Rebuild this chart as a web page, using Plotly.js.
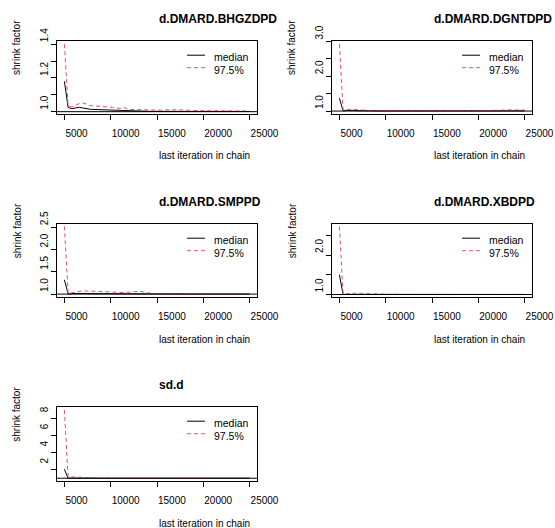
<!DOCTYPE html>
<html>
<head>
<meta charset="utf-8">
<script src="https://cdn.plot.ly/plotly-3.0.1.min.js"></script>
<style>
  html, body { margin: 0; padding: 0; background: #ffffff; }
  #chart { width: 555px; height: 528px; }
</style>
</head>
<body>
<div id="chart"></div>
<script>
// ---- data ----
const iterations = [5000, 5400, 5800, 6200, 6600, 7000, 7400, 7800, 8200, 8600,
  9000, 9400, 9800, 10200, 10600, 11000, 11400, 11800, 12200, 12600,
  13000, 13400, 13800, 14200, 14600, 15000, 15400, 15800, 16200, 16600,
  17000, 17400, 17800, 18200, 18600, 19000, 19400, 19800, 20200, 20600,
  21000, 21400, 21800, 22200, 22600, 23000, 23400, 23800, 24200, 24600, 25000];

const panelTitles = ['d.DMARD.BHGZDPD', 'd.DMARD.DGNTDPD', 'd.DMARD.SMPPD', 'd.DMARD.XBDPD', 'sd.d'];
const seriesNames = ['median', '97.5%'];

const bhgzMedian = [1.18, 1.025, 1.018, 1.020, 1.026, 1.022, 1.016, 1.014, 1.013, 1.012,
  1.011, 1.010, 1.010, 1.009, 1.007, 1.010, 1.008, 1.005, 1.004, 1.004,
  1.003, 1.003, 1.003, 1.002, 1.002, 1.002, 1.003, 1.004, 1.005, 1.005,
  1.005, 1.004, 1.004, 1.003, 1.002, 1.002, 1.002, 1.001, 1.001, 1.002,
  1.002, 1.002, 1.002, 1.002, 1.002, 1.001, 1.001, 1.001, 1.001, 1.001, 1.001];
const bhgzUpper = [1.40, 1.035, 1.028, 1.040, 1.048, 1.052, 1.044, 1.036, 1.034, 1.033,
  1.031, 1.029, 1.027, 1.026, 1.022, 1.019, 1.026, 1.016, 1.013, 1.012,
  1.011, 1.010, 1.010, 1.009, 1.008, 1.008, 1.009, 1.011, 1.012, 1.012,
  1.012, 1.011, 1.010, 1.008, 1.007, 1.007, 1.006, 1.006, 1.006, 1.007,
  1.007, 1.007, 1.007, 1.006, 1.006, 1.006, 1.005, 1.005, 1.005, 1.005, 1.004];

const dgntMedian = [1.37, 1.005, 1.020, 1.025, 1.020, 1.010, 1.006, 1.005, 1.004, 1.004,
  1.003, 1.003, 1.003, 1.004, 1.004, 1.004, 1.005, 1.005, 1.004, 1.004,
  1.004, 1.004, 1.003, 1.003, 1.003, 1.003, 1.003, 1.003, 1.003, 1.003,
  1.003, 1.002, 1.002, 1.002, 1.002, 1.002, 1.002, 1.002, 1.002, 1.003,
  1.004, 1.005, 1.007, 1.008, 1.010, 1.012, 1.012, 1.010, 1.008, 1.006, 1.005];
const dgntUpper = [2.93, 1.030, 1.050, 1.055, 1.050, 1.035, 1.025, 1.020, 1.018, 1.017,
  1.016, 1.016, 1.017, 1.020, 1.022, 1.022, 1.024, 1.024, 1.022, 1.022,
  1.021, 1.021, 1.020, 1.019, 1.018, 1.018, 1.018, 1.017, 1.016, 1.015,
  1.013, 1.011, 1.010, 1.009, 1.008, 1.008, 1.008, 1.009, 1.010, 1.012,
  1.015, 1.020, 1.025, 1.030, 1.035, 1.038, 1.038, 1.035, 1.032, 1.030, 1.028];

const smpMedian = [1.32, 1.000, 1.010, 1.015, 1.020, 1.020, 1.015, 1.010, 1.008, 1.006,
  1.005, 1.004, 1.004, 1.004, 1.005, 1.005, 1.006, 1.006, 1.005, 1.004,
  1.003, 1.002, 1.001, 1.001, 1.001, 1.001, 1.001, 1.001, 1.001, 1.001,
  1.001, 1.001, 1.001, 1.001, 1.001, 1.001, 1.001, 1.001, 1.001, 1.001,
  1.001, 1.001, 1.001, 1.001, 1.001, 1.001, 1.001, 1.001, 1.001, 1.001, 1.001];
const smpUpper = [2.52, 1.010, 1.030, 1.050, 1.070, 1.075, 1.070, 1.065, 1.060, 1.055,
  1.050, 1.050, 1.045, 1.035, 1.030, 1.030, 1.035, 1.040, 1.050, 1.060,
  1.060, 1.055, 1.040, 1.020, 1.010, 1.008, 1.006, 1.005, 1.005, 1.004,
  1.004, 1.004, 1.004, 1.004, 1.003, 1.003, 1.003, 1.003, 1.003, 1.003,
  1.003, 1.003, 1.003, 1.003, 1.003, 1.003, 1.003, 1.003, 1.003, 1.003, 1.003];

const xbMedian = [1.50, 1.000, 1.005, 1.008, 1.010, 1.008, 1.005, 1.004, 1.003, 1.002,
  1.002, 1.002, 1.002, 1.002, 1.002, 1.002, 1.002, 1.002, 1.001, 1.001,
  1.001, 1.001, 1.001, 1.001, 1.001, 1.001, 1.001, 1.001, 1.001, 1.001,
  1.001, 1.001, 1.001, 1.001, 1.001, 1.001, 1.001, 1.001, 1.001, 1.001,
  1.001, 1.001, 1.001, 1.001, 1.001, 1.001, 1.001, 1.001, 1.001, 1.001, 1.001];
const xbUpper = [2.72, 1.010, 1.020, 1.030, 1.035, 1.035, 1.030, 1.025, 1.015, 1.010,
  1.008, 1.006, 1.005, 1.005, 1.004, 1.004, 1.004, 1.004, 1.004, 1.004,
  1.003, 1.003, 1.003, 1.003, 1.003, 1.003, 1.003, 1.003, 1.003, 1.003,
  1.003, 1.003, 1.003, 1.003, 1.003, 1.003, 1.003, 1.003, 1.003, 1.003,
  1.003, 1.003, 1.003, 1.003, 1.003, 1.003, 1.003, 1.003, 1.003, 1.003, 1.003];

const sdMedian = [2.05, 1.000, 1.010, 1.020, 1.020, 1.015, 1.010, 1.005, 1.004, 1.003,
  1.003, 1.003, 1.003, 1.003, 1.003, 1.003, 1.003, 1.003, 1.003, 1.003,
  1.003, 1.003, 1.003, 1.003, 1.003, 1.003, 1.003, 1.003, 1.003, 1.003,
  1.003, 1.003, 1.003, 1.003, 1.003, 1.003, 1.003, 1.003, 1.003, 1.003,
  1.003, 1.003, 1.003, 1.003, 1.003, 1.003, 1.003, 1.003, 1.003, 1.003, 1.003];
const sdUpper = [9.00, 1.150, 1.150, 1.120, 1.120, 1.100, 1.080, 1.050, 1.040, 1.030,
  1.025, 1.020, 1.020, 1.020, 1.018, 1.018, 1.016, 1.015, 1.015, 1.014,
  1.014, 1.013, 1.013, 1.012, 1.012, 1.012, 1.011, 1.011, 1.011, 1.010,
  1.010, 1.010, 1.010, 1.010, 1.010, 1.010, 1.010, 1.010, 1.010, 1.010,
  1.010, 1.010, 1.010, 1.010, 1.010, 1.010, 1.010, 1.010, 1.010, 1.010, 1.010];

const xTickVals = [5000, 10000, 15000, 20000, 25000];
const xTickText = ['5000', '10000', '15000', '20000', '25000'];

const yTickVals1 = [1.0, 1.1, 1.2, 1.3, 1.4];
const yTickText1 = ['1.0', '', '1.2', '', '1.4'];
const yTickVals2 = [1.0, 1.5, 2.0, 2.5, 3.0];
const yTickText2 = ['1.0', '', '2.0', '', '3.0'];
const yTickVals3 = [1.0, 1.5, 2.0, 2.5];
const yTickText3 = ['1.0', '1.5', '2.0', '2.5'];
const yTickVals4 = [1.0, 1.5, 2.0, 2.5];
const yTickText4 = ['1.0', '', '2.0', ''];
const yTickVals5 = [2, 4, 6, 8];
const yTickText5 = ['2', '4', '6', '8'];

const xAxisTitle = 'last iteration in chain';
const yAxisTitle = 'shrink factor';

// ---- assembly ----
const medians = [bhgzMedian, dgntMedian, smpMedian, xbMedian, sdMedian];
const uppers = [bhgzUpper, dgntUpper, smpUpper, xbUpper, sdUpper];
const yTickVals = [yTickVals1, yTickVals2, yTickVals3, yTickVals4, yTickVals5];
const yTickTexts = [yTickText1, yTickText2, yTickText3, yTickText4, yTickText5];
const yRanges = [[0.988, 1.418], [0.924, 3.01], [0.93, 2.57], [0.932, 2.78], [0.65, 9.33]];

const colDomains = [[57 / 555, 257 / 555], [332 / 555, 532 / 555]];
const rowDomains = [[1 - 113.7 / 528, 1 - 41.2 / 528], [1 - 297.2 / 528, 1 - 224.2 / 528], [1 - 481.2 / 528, 1 - 407.2 / 528]];

const FONT = 'Liberation Sans, Arial, Helvetica, sans-serif';
const RED = '#DF536B';

const traces = [];
const layout = {
  width: 555, height: 528,
  margin: {l: 0, r: 0, t: 0, b: 0},
  paper_bgcolor: '#ffffff', plot_bgcolor: '#ffffff',
  showlegend: false,
  font: {family: FONT, size: 10, color: '#000000'},
  annotations: [], shapes: []
};

for (let k = 0; k < 5; k++) {
  const sfx = k === 0 ? '' : String(k + 1);
  const xa = 'x' + sfx, ya = 'y' + sfx;
  traces.push({
    x: iterations, y: medians[k], xaxis: xa, yaxis: ya, type: 'scatter', mode: 'lines',
    name: seriesNames[0], line: {color: '#000000', width: 1}, hoverinfo: 'skip'
  });
  traces.push({
    x: iterations, y: uppers[k], xaxis: xa, yaxis: ya, type: 'scatter', mode: 'lines',
    name: seriesNames[1], line: {color: RED, width: 1, dash: '4px,3px'}, hoverinfo: 'skip'
  });
  const col = k % 2, row = Math.floor(k / 2);
  layout['xaxis' + sfx] = {
    domain: colDomains[col], anchor: ya, range: [4200, 25800],
    showline: true, mirror: true, linecolor: '#000000', linewidth: 1,
    ticks: 'outside', ticklen: 5, tickwidth: 1, tickcolor: '#000000',
    tickvals: xTickVals, ticktext: xTickText, ticklabelposition: 'outside right',
    ticklabelstandoff: 10,
    tickfont: {family: FONT, size: 10, color: '#000000'},
    showgrid: false, zeroline: false, fixedrange: true
  };
  layout['yaxis' + sfx] = {
    domain: rowDomains[row], anchor: xa, range: yRanges[k],
    showline: true, mirror: true, linecolor: '#000000', linewidth: 1,
    ticks: 'outside', ticklen: 5, tickwidth: 1, tickcolor: '#000000',
    tickvals: yTickVals[k], ticktext: yTickTexts[k], tickangle: -90,
    ticklabelposition: 'outside top', ticklabelstandoff: 4,
    tickfont: {family: FONT, size: 10, color: '#000000'},
    showgrid: false, zeroline: false, fixedrange: true
  };
  // reference line at 1
  layout.shapes.push({
    type: 'line', xref: xa + ' domain', x0: 0, x1: 1, yref: ya, y0: 1, y1: 1,
    line: {color: '#000000', width: 1}
  });
  // panel title
  layout.annotations.push({
    text: '<b>' + panelTitles[k] + '</b>', xref: xa + ' domain', yref: ya + ' domain',
    x: 0.5, y: 1, xanchor: 'left', yanchor: 'middle', yshift: 22, showarrow: false,
    font: {family: FONT, size: 12, color: '#000000'}
  });
  // axis titles
  layout.annotations.push({
    text: xAxisTitle, xref: xa + ' domain', yref: ya + ' domain',
    x: 0.5, y: 0, xanchor: 'left', yanchor: 'middle', yshift: -42, showarrow: false,
    font: {family: FONT, size: 10, color: '#000000'}
  });
  layout.annotations.push({
    text: yAxisTitle, xref: xa + ' domain', yref: ya + ' domain', textangle: -90,
    x: 0, y: 0.5, xanchor: 'center', yanchor: 'bottom', xshift: -40, showarrow: false,
    font: {family: FONT, size: 10, color: '#000000'}
  });
  // legend keys
  layout.shapes.push({
    type: 'line', xref: xa + ' domain', xsizemode: 'pixel', xanchor: 0, x0: 130, x1: 148,
    yref: ya + ' domain', ysizemode: 'pixel', yanchor: 1, y0: -14, y1: -14,
    line: {color: '#000000', width: 1}
  });
  layout.shapes.push({
    type: 'line', xref: xa + ' domain', xsizemode: 'pixel', xanchor: 0, x0: 130, x1: 148,
    yref: ya + ' domain', ysizemode: 'pixel', yanchor: 1, y0: -26.5, y1: -26.5,
    line: {color: RED, width: 1, dash: '4px,3px'}
  });
  layout.annotations.push({
    text: seriesNames[0], xref: xa + ' domain', yref: ya + ' domain',
    x: 0, y: 1, xanchor: 'left', yanchor: 'middle', xshift: 155, yshift: -16, showarrow: false,
    font: {family: FONT, size: 10.5, color: '#000000'}
  });
  layout.annotations.push({
    text: seriesNames[1], xref: xa + ' domain', yref: ya + ' domain',
    x: 0, y: 1, xanchor: 'left', yanchor: 'middle', xshift: 155, yshift: -28.5, showarrow: false,
    font: {family: FONT, size: 10.5, color: '#000000'}
  });
}

Plotly.newPlot('chart', traces, layout, {staticPlot: true, displayModeBar: false});
</script>
</body>
</html>
